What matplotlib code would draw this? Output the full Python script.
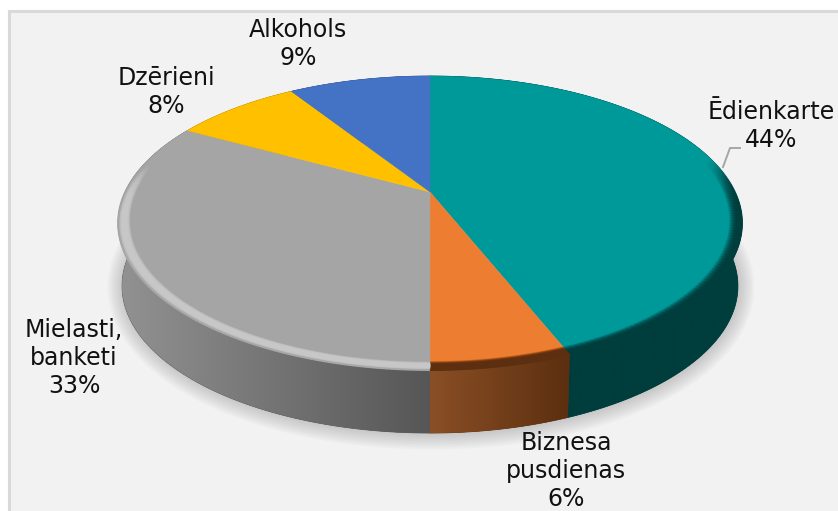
import numpy as np
import matplotlib
matplotlib.use("Agg")
import matplotlib.pyplot as plt
from matplotlib.collections import LineCollection
from matplotlib.colors import to_rgb
from matplotlib.patches import Polygon, Rectangle

# Chart data, clockwise from 12 o'clock
labels = ["Ēdienkarte\n44%", "Biznesa\npusdienas\n6%", "Mielasti,\nbanketi\n33%", "Dzērieni\n8%", "Alkohols\n9%"]
shares = [44, 6, 33, 8, 9]
label_x = [771, 566, 74, 166, 298]
label_y = [126, 471, 358, 92, 44]

top_colors = ["#009999", "#ed7d31", "#a5a5a5", "#ffc000", "#4472c4"]
side_left = ["#003d3d", "#8a4f25", "#929292", "#a07800", "#2a4a80"]
side_right = ["#003d3d", "#5c2f10", "#565656", "#a07800", "#2a4a80"]
rim_colors = ["#003d3d", "#5c2f10", "#c8c8c8", "#a07800", "#2a4a80"]
edge_colors = ["#003d3d", "#5c2f10", "#a8a8a8", "#a07800", "#2a4a80"]

leader_x = [723, 730, 740]
leader_y = [167, 148, 148]

# Pie geometry in pixels, with a perspective factor so the apex sits above the ellipse centre
gApexX = 430
gApexY = 192
gPerspective = 0.211
gScaleX = 305
gScaleY = 140.5
gDepth = 63
gSideShrink = 0.987
gRimStart = 0.96


def projectPoint(theta, r=1.0):
    u = r * np.sin(theta)
    v = r * np.cos(theta)
    w = 1 + gPerspective * v
    return gApexX + gScaleX * u / w, gApexY - gScaleY * v / w


def arcPoints(start, end, n=160):
    theta = np.linspace(start, end, n)
    x, y = projectPoint(theta)
    return theta, x, y


def sidePoints(x, y):
    return gApexX + (x - gApexX) * gSideShrink, y + gDepth


def frontWeight(theta):
    front = np.clip((0.25 - np.cos(theta)) / 0.5, 0, 1)
    return front * front * (3 - 2 * front)


def drawShadow(ax):
    _, x, y = arcPoints(0, 2 * np.pi, 360)
    sx, sy = sidePoints(x, y)
    pts = np.column_stack([sx + 1, sy + 1])
    for lw in range(22, 0, -3):
        ax.add_patch(Polygon(pts, closed=True, fc="none", ec="#808080", lw=lw, alpha=0.05, joinstyle="round", zorder=2))


def drawSide(ax, start, end, i):
    _, x, y = arcPoints(start, end)
    sx, sy = sidePoints(x, y)
    pts = np.column_stack([np.r_[x, sx[::-1]], np.r_[y, sy[::-1]]])
    patch = Polygon(pts, closed=True, transform=ax.transData, fc=side_right[i], ec=side_right[i], lw=0.5, zorder=3)
    ax.add_patch(patch)
    ramp = np.linspace(0, 1, 128)[None, :, None]
    img = (1 - ramp) * np.array(to_rgb(side_left[i])) + ramp * np.array(to_rgb(side_right[i]))
    im = ax.imshow(img, extent=(x.min(), x.max(), sy.max(), y.min()), aspect="auto", zorder=3.1, interpolation="bilinear")
    im.set_clip_path(patch)


def drawTop(ax, start, end, i):
    _, x, y = arcPoints(start, end)
    pts = np.column_stack([np.r_[gApexX, x], np.r_[gApexY, y]])
    ax.add_patch(Polygon(pts, closed=True, fc=top_colors[i], ec=top_colors[i], lw=0.3, zorder=4))


def drawRim(ax, start, end, i):
    # soft edge on the front of the disc
    nt = 160
    nr = 14
    theta = np.linspace(start, end, nt)
    radius = np.linspace(gRimStart, 1.0, nr)
    tt, rr = np.meshgrid(theta, radius)
    x, y = projectPoint(tt, rr)
    t = np.linspace(0, 1, nr)
    if i == 2:
        profile = np.sin(np.pi * t) ** 2
    else:
        profile = t ** 1.2
    rgba = np.zeros((nr, nt, 4))
    rgba[..., :3] = to_rgb(rim_colors[i])
    rgba[..., 3] = np.outer(profile, frontWeight(theta))
    ax.pcolormesh(x, y, rgba, shading="gouraud", zorder=5)

    # smooth out the outer border of the mesh
    ex, ey = projectPoint(theta, 1.0)
    pts = np.column_stack([ex, ey]).reshape(-1, 1, 2)
    segs = np.concatenate([pts[:-1], pts[1:]], axis=1)
    alpha = frontWeight(theta[:-1])
    colors = np.column_stack([np.tile(to_rgb(edge_colors[i]), (len(alpha), 1)), alpha])
    ax.add_collection(LineCollection(segs, colors=colors, linewidths=1.2, zorder=5.1))


def main():
    fig = plt.figure(figsize=(8.38, 5.11), dpi=100, facecolor="white")
    ax = fig.add_axes([0, 0, 1, 1])
    ax.axis("off")

    ax.add_patch(Rectangle((9, 11), 900, 600, fc="#f2f2f2", ec="#d9d9d9", lw=2.2, zorder=1))

    angles = 2 * np.pi * np.r_[0, np.cumsum(shares)] / np.sum(shares)
    drawShadow(ax)
    for i in range(len(shares)):
        drawSide(ax, angles[i], angles[i + 1], i)
    for i in range(len(shares)):
        drawTop(ax, angles[i], angles[i + 1], i)
    for i in range(len(shares)):
        drawRim(ax, angles[i], angles[i + 1], i)

    ax.plot(leader_x, leader_y, color="#a6a6a6", lw=1.4, zorder=6)
    for i, label in enumerate(labels):
        ax.text(label_x[i], label_y[i], label, ha="center", va="center", fontsize=17,
                color="#111111", linespacing=1.2, family="DejaVu Sans", zorder=7)

    ax.set_xlim(0, 838)
    ax.set_ylim(511, 0)
    fig.savefig("out.png", dpi=100)


if( __name__ == "__main__" ):
    main()
